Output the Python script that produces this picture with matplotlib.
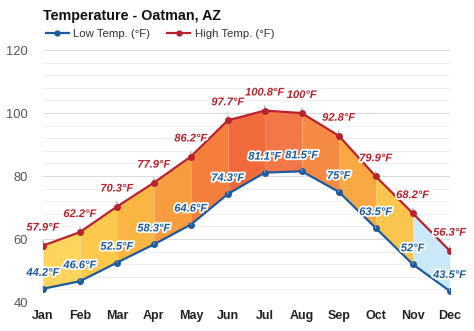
import matplotlib.pyplot as plt
import matplotlib.patheffects as pe
from matplotlib.lines import Line2D
import numpy as np

plt.rcParams['font.family'] = ['Liberation Sans', 'DejaVu Sans']

months = ["Jan", "Feb", "Mar", "Apr", "May", "Jun", "Jul", "Aug", "Sep", "Oct", "Nov", "Dec"]
high_temp = [57.9, 62.2, 70.3, 77.9, 86.2, 97.7, 100.8, 100, 92.8, 79.9, 68.2, 56.3]
low_temp = [44.2, 46.6, 52.5, 58.3, 64.6, 74.3, 81.1, 81.5, 75, 63.5, 52, 43.5]
high_labels = ["57.9°F", "62.2°F", "70.3°F", "77.9°F", "86.2°F", "97.7°F",
               "100.8°F", "100°F", "92.8°F", "79.9°F", "68.2°F", "56.3°F"]
low_labels = ["44.2°F", "46.6°F", "52.5°F", "58.3°F", "64.6°F", "74.3°F",
              "81.1°F", "81.5°F", "75°F", "63.5°F", "52°F", "43.5°F"]
yticks = [40, 60, 80, 100, 120]

# fill colour of each month-to-month band
seg_colors = ["#fdd45c", "#fcc94c", "#fab643", "#f89d3f", "#f47f3d", "#f06a3c",
              "#f2784a", "#f58a45", "#f9a944", "#fcc64e", "#cbe9f8"]

HIGH_C = "#b8212e"
LOW_C = "#1d5a9f"

fig = plt.figure(figsize=(4.74, 3.31), dpi=100)
ax = fig.add_axes([0.0907, 0.0876, 0.858, 0.761])

x = np.arange(len(months))

# bands between the lines
for i in range(len(x) - 1):
    ax.fill_between(x[i:i + 2], low_temp[i:i + 2], high_temp[i:i + 2],
                    color=seg_colors[i], lw=0, zorder=1)

ax.plot(x, high_temp, color=HIGH_C, lw=1.6, marker="o", ms=4, zorder=3)
ax.plot(x, low_temp, color=LOW_C, lw=1.6, marker="o", ms=4, zorder=3)

stroke = [pe.withStroke(linewidth=2.5, foreground="white")]
for xi, v, lab in zip(x, high_temp, high_labels):
    ax.annotate(lab, xy=(xi, v), xytext=(0, 13), textcoords="offset points",
                ha="center", va="center", fontsize=8, fontweight="bold",
                fontstyle="italic", color=HIGH_C, path_effects=stroke, zorder=5,
                arrowprops=dict(arrowstyle="-", color="#999999", lw=0.8,
                                shrinkA=4, shrinkB=2))
for xi, v, lab in zip(x, low_temp, low_labels):
    ax.annotate(lab, xy=(xi, v), xytext=(0, 11.5), textcoords="offset points",
                ha="center", va="center", fontsize=8, fontweight="bold",
                fontstyle="italic", color=LOW_C, path_effects=stroke, zorder=5,
                arrowprops=dict(arrowstyle="-", color="#999999", lw=0.8,
                                shrinkA=4, shrinkB=2))

ax.set_xlim(0, 11)
ax.set_ylim(40, 120)
ax.set_xticks(x)
ax.set_xticklabels(months, fontsize=9, fontweight="bold", color="#222222")
ax.set_yticks(yticks)
ax.set_yticklabels([str(t) for t in yticks], fontsize=9.3, color="#555555")
ax.set_yticks(np.arange(40, 121, 4), minor=True)
ax.tick_params(which="both", length=0)
ax.tick_params(axis="x", pad=6)
ax.tick_params(axis="y", pad=11)
ax.grid(axis="y", which="major", color="#dcdcdc", lw=0.8, zorder=0)
ax.grid(axis="y", which="minor", color="#efefef", lw=0.7, zorder=0)
ax.set_axisbelow(True)
for s in ax.spines.values():
    s.set_visible(False)

fig.text(0.0907, 0.953, "Temperature - Oatman, AZ", fontsize=10.3,
         fontweight="bold", color="#111111", ha="left", va="center")

handles = [Line2D([], [], color=LOW_C, lw=1.6, marker="o", ms=3.5),
           Line2D([], [], color=HIGH_C, lw=1.6, marker="o", ms=3.5)]
fig.legend(handles, ["Low Temp. (°F)", "High Temp. (°F)"], loc="center left",
           bbox_to_anchor=(0.075, 0.897), ncol=2, frameon=False, fontsize=8.2,
           handlelength=2.0, handletextpad=0.4, columnspacing=1.5,
           labelcolor="#333333")

fig.savefig("out.png", dpi=100)
